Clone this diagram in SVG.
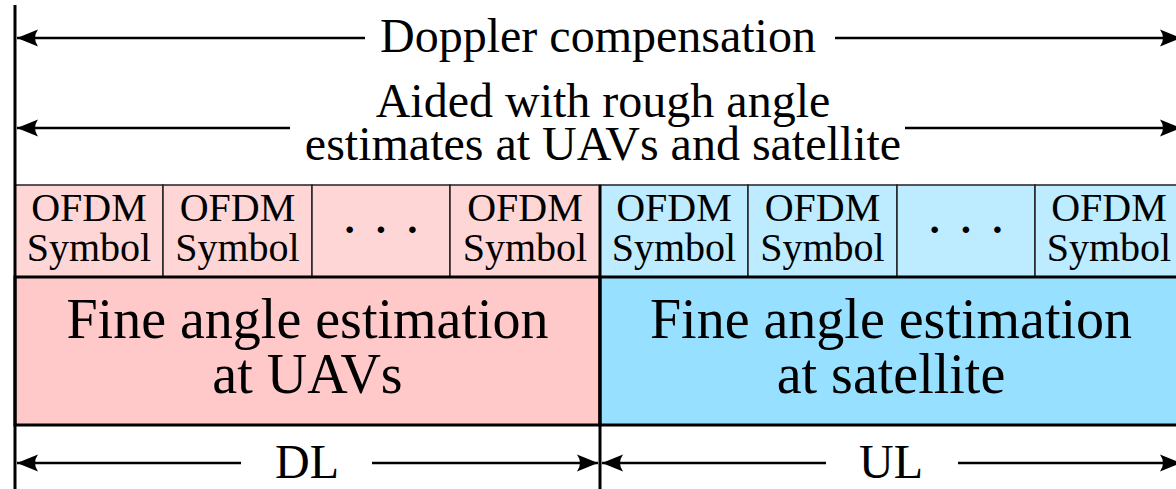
<svg xmlns="http://www.w3.org/2000/svg" width="1176" height="489" viewBox="0 0 1176 489">
  <style>
    .big { font-size: 48px; }
    .main { font-size: 56px; }
    .sym { font-size: 40px; }
    .arr { stroke: #000; stroke-width: 2.5; fill: none; marker-end: url(#ah); }
    .cellL { fill: #FFD6D6; stroke: #222; stroke-width: 1.5; }
    .cellR { fill: #BDEBFF; stroke: #222; stroke-width: 1.5; }
    .bigL { fill: #FFC9C9; stroke: #000; stroke-width: 3; }
    .bigR { fill: #98E0FF; stroke: #000; stroke-width: 3; }
    .rule { stroke: #000; stroke-width: 3; }
  </style>
  <defs>
    <marker id="ah" viewBox="-22 -10 24 20" refX="0" refY="0" markerWidth="24" markerHeight="20" markerUnits="userSpaceOnUse" orient="auto-start-reverse">
      <path d="M0,0 L-21,-8.5 Q-15,0 -21,8.5 Z" fill="#000"/>
    </marker>
  </defs>

  <g id="dl-symbols">
    <rect class="cellL" x="15" y="185" width="148" height="92"/>
    <rect class="cellL" x="163" y="185" width="149" height="92"/>
    <rect class="cellL" x="312" y="185" width="138" height="92"/>
    <rect class="cellL" x="450" y="185" width="150" height="92"/>
    <text class="sym" font-family="'Liberation Serif', serif" text-anchor="middle" x="89" y="221">OFDM</text>
    <text class="sym" font-family="'Liberation Serif', serif" text-anchor="middle" x="89" y="261">Symbol</text>
    <text class="sym" font-family="'Liberation Serif', serif" text-anchor="middle" x="237.5" y="221">OFDM</text>
    <text class="sym" font-family="'Liberation Serif', serif" text-anchor="middle" x="237.5" y="261">Symbol</text>
    <text class="sym" font-family="'Liberation Serif', serif" text-anchor="middle" x="383" y="243" font-size="48" font-weight="bold" letter-spacing="4">· · ·</text>
    <text class="sym" font-family="'Liberation Serif', serif" text-anchor="middle" x="525" y="221">OFDM</text>
    <text class="sym" font-family="'Liberation Serif', serif" text-anchor="middle" x="525" y="261">Symbol</text>
  </g>

  <g id="ul-symbols">
    <rect class="cellR" x="600" y="185" width="148" height="92"/>
    <rect class="cellR" x="748" y="185" width="149" height="92"/>
    <rect class="cellR" x="897" y="185" width="138" height="92"/>
    <rect class="cellR" x="1035" y="185" width="148" height="92"/>
    <text class="sym" font-family="'Liberation Serif', serif" text-anchor="middle" x="674" y="221">OFDM</text>
    <text class="sym" font-family="'Liberation Serif', serif" text-anchor="middle" x="674" y="261">Symbol</text>
    <text class="sym" font-family="'Liberation Serif', serif" text-anchor="middle" x="822.5" y="221">OFDM</text>
    <text class="sym" font-family="'Liberation Serif', serif" text-anchor="middle" x="822.5" y="261">Symbol</text>
    <text class="sym" font-family="'Liberation Serif', serif" text-anchor="middle" x="968" y="243" font-size="48" font-weight="bold" letter-spacing="4">· · ·</text>
    <text class="sym" font-family="'Liberation Serif', serif" text-anchor="middle" x="1109" y="221">OFDM</text>
    <text class="sym" font-family="'Liberation Serif', serif" text-anchor="middle" x="1109" y="261">Symbol</text>
  </g>

  <g id="fine-uav">
    <rect class="bigL" x="15" y="277" width="585" height="148"/>
    <text class="main" font-family="'Liberation Serif', serif" text-anchor="middle" x="307.5" y="338">Fine angle estimation</text>
    <text class="main" font-family="'Liberation Serif', serif" text-anchor="middle" x="307.5" y="393">at UAVs</text>
  </g>

  <g id="fine-sat">
    <rect class="bigR" x="600" y="277" width="583" height="148"/>
    <text class="main" font-family="'Liberation Serif', serif" text-anchor="middle" x="891" y="338">Fine angle estimation</text>
    <text class="main" font-family="'Liberation Serif', serif" text-anchor="middle" x="891" y="393">at satellite</text>
  </g>

  <g id="connectors">
    <line class="rule" x1="15" y1="5" x2="15" y2="489"/>
    <line class="rule" x1="600" y1="185" x2="600" y2="489"/>
    <line class="arr" x1="365" y1="38" x2="17" y2="38"/>
    <line class="arr" x1="835" y1="38" x2="1181" y2="38"/>
    <line class="arr" x1="290" y1="128" x2="17" y2="128"/>
    <line class="arr" x1="905" y1="128" x2="1181" y2="128"/>
    <line class="arr" x1="241" y1="463" x2="17" y2="463"/>
    <line class="arr" x1="372" y1="463" x2="598" y2="463"/>
    <line class="arr" x1="826" y1="463" x2="602" y2="463"/>
    <line class="arr" x1="958" y1="463" x2="1181" y2="463"/>
  </g>

  <g id="labels">
    <text class="big" font-family="'Liberation Serif', serif" text-anchor="middle" x="598" y="52">Doppler compensation</text>
    <text class="big" font-family="'Liberation Serif', serif" text-anchor="middle" x="603" y="117">Aided with rough angle</text>
    <text class="big" font-family="'Liberation Serif', serif" text-anchor="middle" x="603" y="160">estimates at UAVs and satellite</text>
    <text class="big" font-family="'Liberation Serif', serif" text-anchor="middle" x="307" y="478">DL</text>
    <text class="big" font-family="'Liberation Serif', serif" text-anchor="middle" x="891" y="478">UL</text>
  </g>
</svg>
